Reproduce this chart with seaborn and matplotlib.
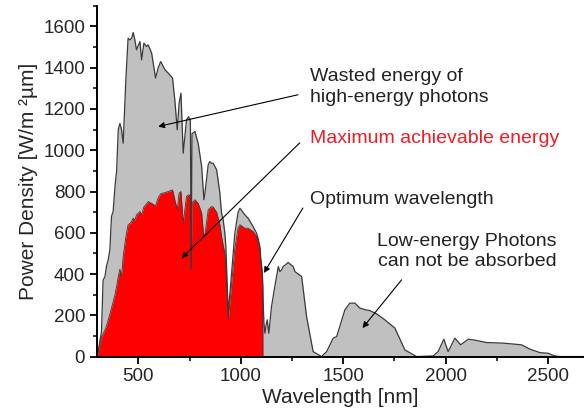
import numpy as np
import pandas as pd
import matplotlib
matplotlib.use("Agg")
import matplotlib.pyplot as plt
import seaborn as sns
from matplotlib.ticker import MultipleLocator

# solar spectrum (wavelength in nm, power density in W/m2/um)
wavelength = [300, 310, 320, 328, 337, 345, 353, 361, 369, 377, 386, 394, 402, 410, 418,
              426, 439, 450, 459, 467, 475, 483, 491, 508, 516, 527, 540, 548, 565, 584,
              597, 609, 630, 646, 667, 678, 690, 699, 708, 719, 735, 745, 752, 754, 758,
              762, 776, 792, 809, 820, 826, 841, 849, 857, 865, 874, 882, 890, 898, 906,
              914, 922, 927, 939, 955, 971, 987, 996, 1020, 1036, 1060, 1077, 1085, 1093,
              1098, 1104, 1107, 1108,
              1113, 1118, 1123, 1129, 1137, 1150, 1166, 1183, 1191, 1199, 1207, 1231, 1256,
              1264, 1297, 1321, 1353, 1394, 1419, 1451, 1468, 1508, 1532, 1557, 1581, 1611,
              1630, 1663, 1703, 1752, 1801, 1858, 1939, 1963, 1991, 2012, 2045, 2073, 2110,
              2134, 2200, 2281, 2370, 2411, 2460, 2500, 2533, 2560, 2700]
power = [0, 60, 120, 370, 388, 440, 470, 517, 679, 703, 824, 900, 1099, 1130, 1100,
         1034, 1341, 1543, 1535, 1543, 1571, 1535, 1487, 1527, 1438, 1519, 1503, 1511, 1471, 1350,
         1400, 1430, 1390, 1374, 1350, 1244, 1099, 1228, 1277, 986, 1147, 1163, 1147, 1150, 430,
         1080, 1091, 1034, 921, 760, 800, 930, 945, 937, 937, 921, 905, 850, 792, 695,
         663, 600, 533, 210, 404, 598, 700, 719, 687, 670, 630, 598, 570, 533,
         470, 420, 360, 300,
         160, 113, 150, 178, 113, 243, 339, 436, 412, 420, 436, 456, 436,
         412, 388, 194, 24, 0, 24, 89, 97, 226, 259, 259, 235, 226,
         223, 207, 178, 138, 32, 0, 3, 24, 84, 24, 89, 57, 84,
         81, 68, 65, 57, 36, 19, 16, 3, 0, 0]
# part that a 1107 nm absorber can use
absorbed = [0, 50, 95, 110, 129, 150, 178, 205, 235, 265, 299, 340, 388, 424, 388,
            485, 580, 639, 645, 655, 671, 660, 687, 703, 687, 725, 740, 751, 743, 730,
            770, 789, 795, 800, 808, 760, 711, 792, 800, 647, 776, 784, 780, 785, 425,
            745, 760, 743, 695, 574, 600, 711, 720, 727, 725, 711, 700, 670, 640, 582,
            540, 500, 446, 178, 349, 524, 625, 639, 622, 622, 606, 582, 555, 525,
            460, 400, 340, 0]

df = pd.DataFrame({"wavelength": wavelength, "power": power})
df_abs = pd.DataFrame({"wavelength": wavelength[:len(absorbed)], "power": absorbed})

sns.set_style("ticks")
plt.rcParams["font.family"] = ["Liberation Sans", "DejaVu Sans"]

fig = plt.figure(figsize=(5.84, 4.18), dpi=100)
ax = fig.add_axes([0.166, 0.147, 0.834, 0.839])

edge = "#3a3a3a"
ax.fill_between(df["wavelength"], df["power"], color="#c0c0c0", lw=0)
ax.fill_between(df_abs["wavelength"], df_abs["power"], color="#ff0000", lw=0)
sns.lineplot(data=df, x="wavelength", y="power", ax=ax, color=edge, lw=0.9, estimator=None)
sns.lineplot(data=df_abs, x="wavelength", y="power", ax=ax, color=edge, lw=0.6, estimator=None)

ax.set_xlim(298, 2675)
ax.set_ylim(0, 1700)
ax.xaxis.set_major_locator(MultipleLocator(500))
ax.xaxis.set_minor_locator(MultipleLocator(250))
ax.yaxis.set_major_locator(MultipleLocator(200))
ax.yaxis.set_minor_locator(MultipleLocator(100))
ax.tick_params(which="major", length=5, width=1.3, labelsize=13.5, color="k")
ax.tick_params(which="minor", length=3, width=1.1, color="k")
sns.despine(ax=ax)
for s in ["left", "bottom"]:
    ax.spines[s].set_linewidth(1.4)
    ax.spines[s].set_color("k")

ax.set_xlabel("Wavelength [nm]", fontsize=15, labelpad=2)
ax.set_ylabel("Power Density [W/m \u00b2\u00b5m]", fontsize=15, labelpad=4)

arrow = dict(arrowstyle="-|>", color="k", lw=0.8, mutation_scale=9, shrinkA=0, shrinkB=0)
ax.annotate("", xy=(597, 1115), xytext=(1279, 1269), arrowprops=arrow)
ax.annotate("", xy=(711, 477), xytext=(1288, 1036), arrowprops=arrow)
ax.annotate("", xy=(1113, 405), xytext=(1303, 720), arrowprops=arrow)
ax.annotate("", xy=(1594, 138), xytext=(1785, 372), arrowprops=arrow)

ax.text(1337, 1307, "Wasted energy of\nhigh-energy photons", fontsize=14,
        va="center", ha="left", linespacing=1.25, color="#222222")
ax.text(1337, 1055, "Maximum achievable energy", fontsize=14,
        va="center", ha="left", color="#ee1c25")
ax.text(1337, 760, "Optimum wavelength", fontsize=14,
        va="center", ha="left", color="#222222")
ax.text(2104, 510, "Low-energy Photons\ncan not be absorbed", fontsize=14,
        va="center", ha="center", linespacing=1.25, color="#222222")

plt.savefig("out.png", dpi=100)
